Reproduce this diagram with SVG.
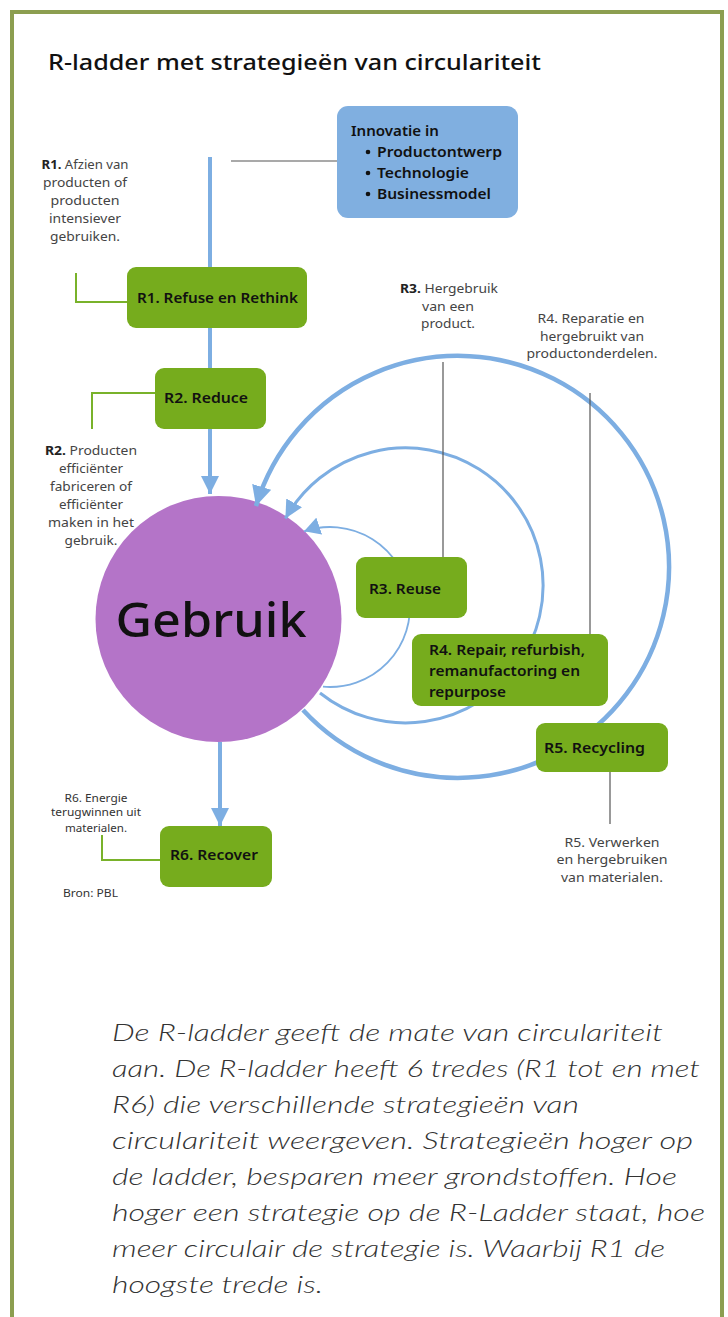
<svg xmlns="http://www.w3.org/2000/svg" width="728" height="1317" viewBox="0 0 728 1317">
<defs>
<style>
.frame{fill:none;stroke:#8c9e50;stroke-width:4}
.box{fill:#76ac1d}
.btxt{font-family:"Noto Sans","Open Sans",sans-serif;font-weight:600;font-size:14.5px;fill:#111}
.lbl{font-family:"Noto Sans","Open Sans",sans-serif;font-size:12.5px;fill:#444;text-anchor:middle}
.lbls{font-family:"Noto Sans","Open Sans",sans-serif;font-size:11px;fill:#333;text-anchor:middle}
.b{font-weight:700;fill:#222}
.blue{fill:none;stroke:#7daee2}
.gline{fill:none;stroke:#79b22a;stroke-width:2}
.dline{fill:none;stroke:#555;stroke-width:1.2}
.para{font-family:Lato,"Open Sans",sans-serif;font-style:italic;font-weight:300;font-size:23px;fill:#333}
</style>
<marker id="ahL" markerUnits="userSpaceOnUse" markerWidth="22" markerHeight="20" refX="20" refY="10" orient="auto"><path d="M0,0 L20,10 L0,20 z" fill="#7daee2"/></marker>
<marker id="ahM" markerUnits="userSpaceOnUse" markerWidth="20" markerHeight="18" refX="18" refY="9" orient="auto"><path d="M0,0 L18,9 L0,18 z" fill="#7daee2"/></marker>
<marker id="ahS" markerUnits="userSpaceOnUse" markerWidth="18" markerHeight="18" refX="16" refY="9" orient="auto"><path d="M0,0 L16,9 L0,18 z" fill="#7daee2"/></marker>
</defs>
<rect width="728" height="1317" fill="#ffffff"/>
<path class="frame" d="M12,1330 L12,12 L722,12 L722,1330"/>
<text x="48" y="70" font-family="'Noto Sans','Open Sans',sans-serif" font-size="21" font-weight="500" fill="#111" textLength="493" lengthAdjust="spacingAndGlyphs">R-ladder met strategieën van circulariteit</text>

<g id="gebruik">
<circle cx="218.5" cy="619" r="123" fill="#b474c8"/>
<text x="211" y="637" text-anchor="middle" font-family="'Noto Sans','Open Sans',sans-serif" font-size="48" font-weight="500" fill="#111" textLength="191" lengthAdjust="spacingAndGlyphs">Gebruik</text>
</g>

<g id="connectors">
<path class="blue" stroke-width="4" d="M210,157 L210,494" marker-end="url(#ahM)"/>
<path class="blue" stroke-width="4" d="M220,742 L220,826" marker-end="url(#ahM)"/>
<path class="blue" stroke-width="4.5" d="M303,710 A211,211 0 1 0 256,506" marker-end="url(#ahL)"/>
<path class="blue" stroke-width="3" d="M320,693 A137.5,137.5 0 1 0 285.4,518.6" marker-end="url(#ahM)"/>
<path class="blue" stroke-width="1.8" d="M323,686.7 A80,80 0 1 0 304.1,531.3" marker-end="url(#ahS)"/>
<path class="dline" d="M231,161 L338,161"/>
<path class="dline" d="M443,362 L443,557"/>
<path class="dline" d="M590,393 L590,634"/>
<path class="dline" d="M610,768 L610,824"/>
<path class="gline" d="M76,273 L76,302 L127,302"/>
<path class="gline" d="M155,393 L92,393 L92,429"/>
<path class="gline" d="M102,835 L102,860 L160,860"/>
</g>

<g id="innovatie">
<rect x="337" y="106" width="181" height="112" rx="11" fill="#80afe0"/>
<g class="btxt">
<text x="351" y="136" textLength="88" lengthAdjust="spacingAndGlyphs">Innovatie in</text>
<circle cx="368" cy="152" r="2.3" fill="#111"/>
<circle cx="368" cy="173" r="2.3" fill="#111"/>
<circle cx="368" cy="194" r="2.3" fill="#111"/>
<text x="377" y="157" textLength="125" lengthAdjust="spacingAndGlyphs">Productontwerp</text>
<text x="377" y="178" textLength="92" lengthAdjust="spacingAndGlyphs">Technologie</text>
<text x="377" y="199" textLength="114" lengthAdjust="spacingAndGlyphs">Businessmodel</text>
</g>
</g>

<g id="r1">
<rect class="box" x="127" y="267" width="180" height="61" rx="9"/>
<text class="btxt" x="137" y="303" textLength="161" lengthAdjust="spacingAndGlyphs">R1. Refuse en Rethink</text>
</g>
<g id="r1-label" class="lbl">
<text x="85" y="169" textLength="87" lengthAdjust="spacingAndGlyphs"><tspan class="b">R1.</tspan> Afzien van</text>
<text x="85" y="187" textLength="84" lengthAdjust="spacingAndGlyphs">producten of</text>
<text x="85" y="205" textLength="69" lengthAdjust="spacingAndGlyphs">producten</text>
<text x="85" y="223" textLength="72" lengthAdjust="spacingAndGlyphs">intensiever</text>
<text x="85" y="241" textLength="70" lengthAdjust="spacingAndGlyphs">gebruiken.</text>
</g>

<g id="r2">
<rect class="box" x="155" y="368" width="111" height="61" rx="9"/>
<text class="btxt" x="164" y="403" textLength="84" lengthAdjust="spacingAndGlyphs">R2. Reduce</text>
</g>
<g id="r2-label" class="lbl">
<text x="91" y="455" textLength="92" lengthAdjust="spacingAndGlyphs"><tspan class="b">R2.</tspan> Producten</text>
<text x="91" y="473" textLength="64" lengthAdjust="spacingAndGlyphs">efficiënter</text>
<text x="91" y="491" textLength="82" lengthAdjust="spacingAndGlyphs">fabriceren of</text>
<text x="91" y="509" textLength="64" lengthAdjust="spacingAndGlyphs">efficiënter</text>
<text x="91" y="527" textLength="86" lengthAdjust="spacingAndGlyphs">maken in het</text>
<text x="91" y="545" textLength="53" lengthAdjust="spacingAndGlyphs">gebruik.</text>
</g>

<g id="r3">
<rect class="box" x="356" y="557" width="111" height="61" rx="9"/>
<text class="btxt" x="369" y="594" textLength="72" lengthAdjust="spacingAndGlyphs">R3. Reuse</text>
</g>
<g id="r3-label" class="lbl">
<text x="449" y="293" textLength="98" lengthAdjust="spacingAndGlyphs"><tspan class="b">R3.</tspan> Hergebruik</text>
<text x="448" y="311" textLength="52" lengthAdjust="spacingAndGlyphs">van een</text>
<text x="448" y="328" textLength="54" lengthAdjust="spacingAndGlyphs">product.</text>
</g>

<g id="r4">
<rect class="box" x="412" y="634" width="196" height="72" rx="9"/>
<text class="btxt" x="429" y="655" textLength="156" lengthAdjust="spacingAndGlyphs">R4. Repair, refurbish,</text>
<text class="btxt" x="429" y="676" textLength="151" lengthAdjust="spacingAndGlyphs">remanufactoring en</text>
<text class="btxt" x="429" y="697" textLength="77" lengthAdjust="spacingAndGlyphs">repurpose</text>
</g>
<g id="r4-label" class="lbl">
<text x="591" y="323" textLength="107" lengthAdjust="spacingAndGlyphs">R4. Reparatie en</text>
<text x="592" y="341" textLength="104" lengthAdjust="spacingAndGlyphs">hergebruikt van</text>
<text x="592" y="358" textLength="131" lengthAdjust="spacingAndGlyphs">productonderdelen.</text>
</g>

<g id="r5">
<rect class="box" x="536" y="723" width="132" height="49" rx="9"/>
<text class="btxt" x="544" y="753" textLength="101" lengthAdjust="spacingAndGlyphs">R5. Recycling</text>
</g>
<g id="r5-label" class="lbl">
<text x="612" y="847" textLength="95" lengthAdjust="spacingAndGlyphs">R5. Verwerken</text>
<text x="612" y="864" textLength="111" lengthAdjust="spacingAndGlyphs">en hergebruiken</text>
<text x="612" y="882" textLength="102" lengthAdjust="spacingAndGlyphs">van materialen.</text>
</g>

<g id="r6">
<rect class="box" x="160" y="826" width="112" height="61" rx="9"/>
<text class="btxt" x="170" y="860" textLength="88" lengthAdjust="spacingAndGlyphs">R6. Recover</text>
</g>
<g id="r6-label" class="lbls">
<text x="96" y="802" textLength="63" lengthAdjust="spacingAndGlyphs">R6. Energie</text>
<text x="96" y="816" textLength="90" lengthAdjust="spacingAndGlyphs">terugwinnen uit</text>
<text x="96" y="832" textLength="62" lengthAdjust="spacingAndGlyphs">materialen.</text>
</g>
<text x="63" y="897" font-family="'Noto Sans','Open Sans',sans-serif" font-size="11" fill="#333" textLength="55" lengthAdjust="spacingAndGlyphs">Bron: PBL</text>

<g id="paragraph" class="para">
<text x="112" y="1041" textLength="551" lengthAdjust="spacingAndGlyphs">De R-ladder geeft de mate van circulariteit</text>
<text x="112" y="1077" textLength="588" lengthAdjust="spacingAndGlyphs">aan. De R-ladder heeft 6 tredes (R1 tot en met</text>
<text x="112" y="1113" textLength="467" lengthAdjust="spacingAndGlyphs">R6) die verschillende strategieën van</text>
<text x="112" y="1149" textLength="581" lengthAdjust="spacingAndGlyphs">circulariteit weergeven. Strategieën hoger op</text>
<text x="112" y="1185" textLength="565" lengthAdjust="spacingAndGlyphs">de ladder, besparen meer grondstoffen. Hoe</text>
<text x="112" y="1221" textLength="593" lengthAdjust="spacingAndGlyphs">hoger een strategie op de R-Ladder staat, hoe</text>
<text x="112" y="1257" textLength="553" lengthAdjust="spacingAndGlyphs">meer circulair de strategie is. Waarbij R1 de</text>
<text x="112" y="1293" textLength="211" lengthAdjust="spacingAndGlyphs">hoogste trede is.</text>
</g>
</svg>
